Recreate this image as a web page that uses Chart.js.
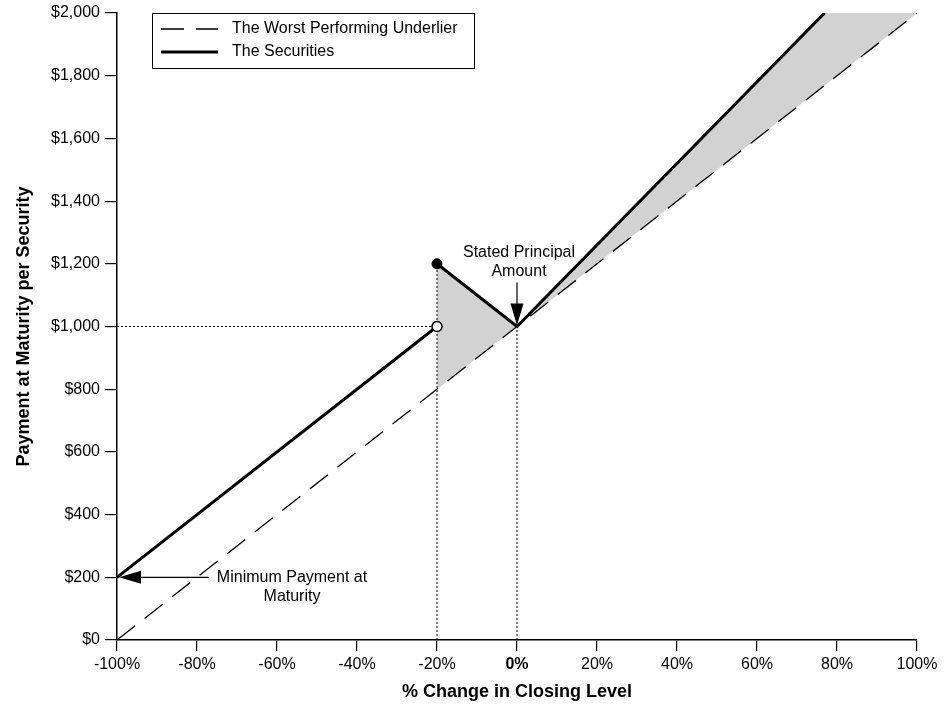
<!DOCTYPE html>
<html>
<head>
<meta charset="utf-8">
<script src="https://cdn.jsdelivr.net/npm/chart.js@4.4.1/dist/chart.umd.min.js"></script>
<style>
  body { margin: 0; background: #fff; }
  #wrap { width: 947px; height: 709px; }
</style>
</head>
<body>
<div id="wrap"><canvas id="payoff" width="947" height="709"></canvas></div>
<script>
// values (% change -> $ per security)
const underlierX = [-100, 100];
const underlierY = [0, 2000];
const lowerLegX = [-100, -20];
const lowerLegY = [200, 1000];
const upperLegX = [-20, 0, 76.9];
const upperLegY = [1200, 1000, 2000];
const shadeX = [-20, -20, 0, 76.9, 100];
const shadeY = [800, 1200, 1000, 2000, 2000];
const principalGuideX = [-100, -20];
const principalGuideY = [1000, 1000];
const barrierGuideX = [-20, -20];
const barrierGuideY = [0, 1200];
const zeroGuideX = [0, 0];
const zeroGuideY = [0, 1000];
const closedDot = [-20, 1200];
const openDot = [-20, 1000];
const stated = [0, 1000];
const minimum = [-100, 200];

const FONT = "'Liberation Sans', Arial, sans-serif";

function pts(xs, ys) {
  return xs.map((x, i) => ({ x: x, y: ys[i] }));
}

function guide(xs, ys) {
  return {
    data: pts(xs, ys),
    borderColor: '#000',
    borderWidth: 1,
    borderDash: [2, 2],
    pointRadius: 0,
    showLine: true,
    order: 5
  };
}

function arrowHead(ctx, tipX, tipY, dir, len, half) {
  ctx.beginPath();
  ctx.moveTo(tipX, tipY);
  if (dir === 'down') {
    ctx.lineTo(tipX - half, tipY - len);
    ctx.lineTo(tipX + half, tipY - len);
  } else {
    ctx.lineTo(tipX + len, tipY - half);
    ctx.lineTo(tipX + len, tipY + half);
  }
  ctx.closePath();
  ctx.fill();
}

const annotations = {
  id: 'annotations',
  afterDatasetsDraw(chart) {
    const ctx = chart.ctx;
    const xs = chart.scales.x, ys = chart.scales.y;
    ctx.save();
    ctx.fillStyle = '#000';
    ctx.strokeStyle = '#000';
    ctx.lineWidth = 1.2;

    // Stated Principal Amount
    const sx = xs.getPixelForValue(stated[0]);
    const sy = ys.getPixelForValue(stated[1]);
    ctx.beginPath();
    ctx.moveTo(sx, sy - 44);
    ctx.lineTo(sx, sy - 20);
    ctx.stroke();
    arrowHead(ctx, sx, sy - 1, 'down', 22, 6.5);
    ctx.font = '16px ' + FONT;
    ctx.textAlign = 'center';
    ctx.textBaseline = 'middle';
    ctx.fillText('Stated Principal', sx + 2, sy - 74);
    ctx.fillText('Amount', sx + 2, sy - 55);

    // Minimum Payment at Maturity
    const mx = xs.getPixelForValue(minimum[0]);
    const my = ys.getPixelForValue(minimum[1]);
    ctx.beginPath();
    ctx.moveTo(mx + 20, my);
    ctx.lineTo(mx + 92, my);
    ctx.stroke();
    arrowHead(ctx, mx + 2, my, 'left', 22, 6.5);
    ctx.fillText('Minimum Payment at', mx + 175, my);
    ctx.fillText('Maturity', mx + 175, my + 19);

    // legend box
    const lx = xs.left + 35, ly = ys.top;
    ctx.fillStyle = '#fff';
    ctx.fillRect(lx, ly, 322, 55);
    ctx.lineWidth = 1;
    ctx.strokeRect(lx + 0.5, ly + 0.5, 322, 55);
    ctx.fillStyle = '#000';
    ctx.textAlign = 'left';
    const items = chart.data.datasets.filter(d => d.label);
    items.forEach((d, i) => {
      const rowY = ly + 16 + i * 23;
      ctx.save();
      ctx.beginPath();
      ctx.lineWidth = d.borderWidth;
      ctx.setLineDash(d.borderDash || []);
      ctx.moveTo(lx + 9, rowY);
      ctx.lineTo(lx + 66, rowY);
      ctx.stroke();
      ctx.restore();
      ctx.fillText(d.label, lx + 80, rowY);
    });
    ctx.restore();
  }
};

new Chart(document.getElementById('payoff'), {
  type: 'scatter',
  data: {
    datasets: [
      {
        label: 'The Worst Performing Underlier',
        data: pts(underlierX, underlierY),
        borderColor: '#000',
        borderWidth: 1.3,
        borderDash: [23, 12],
        pointRadius: 0,
        showLine: true,
        order: 3
      },
      {
        label: 'The Securities',
        data: pts(upperLegX, upperLegY),
        borderColor: '#000',
        borderWidth: 3,
        pointRadius: 0,
        showLine: true,
        order: 1
      },
      {
        data: pts(lowerLegX, lowerLegY),
        borderColor: '#000',
        borderWidth: 3,
        pointRadius: 0,
        showLine: true,
        order: 1
      },
      {
        data: pts(shadeX, shadeY),
        borderColor: 'rgba(0,0,0,0)',
        borderWidth: 0,
        backgroundColor: '#d2d2d2',
        fill: 'shape',
        pointRadius: 0,
        showLine: true,
        order: 10
      },
      guide(principalGuideX, principalGuideY),
      guide(barrierGuideX, barrierGuideY),
      guide(zeroGuideX, zeroGuideY),
      {
        data: [{ x: closedDot[0], y: closedDot[1] }],
        pointRadius: 5,
        pointBackgroundColor: '#000',
        pointBorderColor: '#000',
        pointBorderWidth: 1,
        order: 0
      },
      {
        data: [{ x: openDot[0], y: openDot[1] }],
        pointRadius: 5,
        pointBackgroundColor: '#fff',
        pointBorderColor: '#000',
        pointBorderWidth: 1.5,
        order: 0
      }
    ]
  },
  options: {
    responsive: false,
    animation: false,
    devicePixelRatio: 1,
    layout: {
      padding: { top: 13, right: 30, left: 0, bottom: 0 }
    },
    plugins: {
      legend: { display: false },
      tooltip: { enabled: false }
    },
    scales: {
      x: {
        type: 'linear',
        min: -100,
        max: 100,
        afterFit(scale) {
          scale.height = 69;
          scale.paddingLeft = 0;
          scale.paddingRight = 0;
        },
        border: { display: true, color: '#000', width: 1.5 },
        grid: { drawOnChartArea: false, drawTicks: true, tickLength: 11, color: '#000', lineWidth: 1.2 },
        ticks: {
          stepSize: 20,
          padding: 4,
          color: '#000',
          maxRotation: 0,
          font: (c) => ({ family: FONT, size: 16, weight: c.tick && c.tick.value === 0 ? 'bold' : 'normal' }),
          callback: (v) => v + '%'
        },
        title: {
          display: true,
          text: '% Change in Closing Level',
          color: '#000',
          font: { family: FONT, size: 18, weight: 'bold' },
          padding: { top: 0, bottom: 6 }
        }
      },
      y: {
        type: 'linear',
        min: 0,
        max: 2000,
        afterFit(scale) {
          scale.width = 117;
          scale.paddingTop = 0;
          scale.paddingBottom = 0;
        },
        border: { display: true, color: '#000', width: 1.5 },
        grid: { drawOnChartArea: false, drawTicks: true, tickLength: 12, color: '#000', lineWidth: 1.2 },
        ticks: {
          stepSize: 200,
          padding: 5,
          color: '#000',
          font: { family: FONT, size: 16 },
          callback: (v) => '$' + v.toLocaleString('en-US')
        },
        title: {
          display: true,
          text: 'Payment at Maturity per Security',
          color: '#000',
          font: { family: FONT, size: 18, weight: 'bold' },
          padding: { top: 13, bottom: 0 }
        }
      }
    }
  },
  plugins: [annotations]
});
</script>
</body>
</html>
